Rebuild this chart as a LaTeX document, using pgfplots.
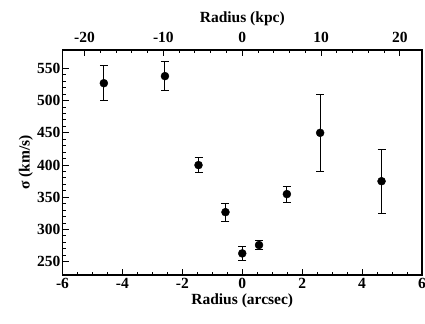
\documentclass[border=0pt]{standalone}
\usepackage{pgfplots}
\pgfplotsset{compat=1.18}
\usepackage{fontspec}
\setmainfont{Liberation Serif}
\newfontfamily\tnr{Liberation Serif}
\newcommand{\tl}[1]{\mbox{\fontsize{15.5}{18}\selectfont\tnr\bfseries #1}}
\begin{document}
\begin{tikzpicture}
\pgfplotsset{
  base/.style={
    scale only axis, width=359.5pt, height=225pt,
    axis line style={line width=1.2pt},
    every tick/.style={black, line width=1pt},
    major tick length=6pt, minor tick length=3pt,
    tick align=inside,
    tick label style={font=\fontsize{15.5}{18}\selectfont\tnr\bfseries},
    label style={font=\fontsize{15.5}{18}\selectfont\tnr\bfseries},
  }
}
\begin{axis}[axis lines=box, base, name=main,
  xmin=-6, xmax=6, ymin=229.5, ymax=578.5,
  xtick pos=lower, ytick pos=left,
  xtick={-6,-4,...,6}, minor x tick num=3,
  xticklabels={\tl{-6},\tl{-4},\tl{-2},\tl{0},\tl{2},\tl{4},\tl{6}},
  ytick={250,300,...,550}, minor y tick num=4,
  yticklabels={\tl{250},\tl{300},\tl{350},\tl{400},\tl{450},\tl{500},\tl{550}},
  xlabel={Radius (arcsec)},
  ylabel={σ (km/s)},
  xlabel style={at={(axis description cs:0.5,-0.130)}, anchor=base},
  ylabel style={at={(axis description cs:-0.1015,0.5)}, anchor=center, rotate=0},
  yticklabel style={xshift=1.5pt},
]
\addplot[only marks, mark=*, mark size=4pt, black,
  error bars/.cd, y dir=both, y explicit,
  error bar style={line width=1pt},
  error mark options={rotate=90, mark size=4pt, line width=1pt}]
coordinates {
  (-4.62,527) +- (0,27)
  (-2.58,538) +- (0,23)
  (-1.46,400) +- (0,11.5)
  (-0.56,327) +- (0,14)
  (0,263) +- (0,11)
  (0.56,276) +- (0,7.5)
  (1.49,355) +- (0,12.5)
  (2.60,450) +- (0,60)
  (4.65,375) +- (0,49.5)
};
\end{axis}
\begin{axis}[base,
  xmin=-22.8, xmax=22.8, ymin=229.5, ymax=578.5,
  axis x line*=top, hide y axis,
  xtick={-20,-10,...,20}, minor x tick num=4,
  xticklabels={\tl{-20},\tl{-10},\tl{0},\tl{10},\tl{20}},
  xlabel={Radius (kpc)},
  xticklabel style={yshift=4pt},
  xlabel style={at={(axis description cs:0.5,1.123)}, anchor=base},
]
\addplot[draw=none] coordinates {(0,300)};
\end{axis}
\draw[line width=1.2pt] (main.south east) -- (main.north east);
\pgfresetboundingbox
\path ([shift={(-62.5pt,-48pt)}]main.south west) rectangle ([shift={(3pt,50pt)}]main.north east);
\end{tikzpicture}
\end{document}
